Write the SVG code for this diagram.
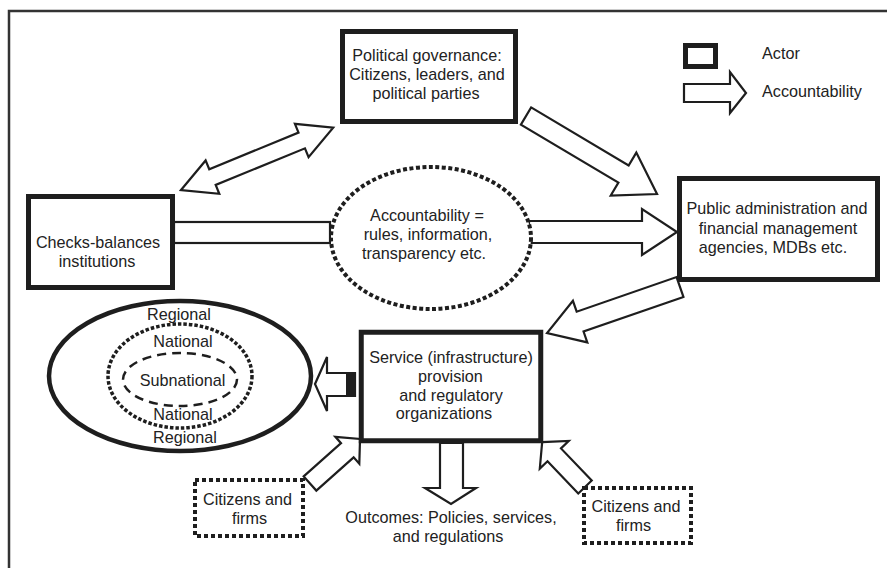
<svg xmlns="http://www.w3.org/2000/svg" width="887" height="568" viewBox="0 0 887 568">
<style>
text{font-family:"Liberation Sans",Arial,sans-serif;font-size:16.2px;fill:#222;text-anchor:middle}
.actor{fill:#fff;stroke:#1e1e1e;stroke-width:5}
.arr{fill:#fff;stroke:#1e1e1e;stroke-width:2.2;stroke-linejoin:miter}
.dotbox{fill:#fff;stroke:#1e1e1e;stroke-width:4;stroke-dasharray:4 3}
.lg{text-anchor:start}
</style>
<rect width="887" height="568" fill="#fff"/>
<path d="M9,568 V11 H887" fill="none" stroke="#333" stroke-width="2.5"/>

<g id="connectors">
  <rect class="arr" x="174" y="222" width="156" height="21"/>
  <polygon class="arr" points="529,221 642,221 642,209 677,232 642,255 642,243 529,243"/>
  <polygon class="arr" transform="translate(181,190) rotate(-22.3)" points="0,0 34,-18 34,-8.5 130.5,-8.5 130.5,-18 164.5,0 130.5,18 130.5,8.5 34,8.5 34,18"/>
  <polygon class="arr" transform="translate(526,116) rotate(30.77)" points="0,-10 113.5,-10 113.5,-25 152.5,0 113.5,25 113.5,10 0,10"/>
  <polygon class="arr" transform="translate(680,287) rotate(160.9)" points="0,-10.5 105.7,-10.5 105.7,-22 140.7,0 105.7,22 105.7,10.5 0,10.5"/>
  <polygon class="arr" points="315,384 327,357 327,373 355,373 355,396 327,396 327,411"/>
  <rect x="346" y="373" width="9" height="23" fill="#1e1e1e"/>
  <polygon class="arr" points="440,443 463,443 463,488 476,488 451,504 425,488 440,488"/>
  <polygon class="arr" transform="translate(310,483.5) rotate(-41.7)" points="0,-9.5 50,-9.5 50,-18 67,0 50,18 50,9.5 0,9.5"/>
  <polygon class="arr" transform="translate(585,487) rotate(-133.7)" points="0,-9.3 44.5,-9.3 44.5,-20 62,0 44.5,20 44.5,9.3 0,9.3"/>
</g>

<g id="political">
  <rect class="actor" x="342.5" y="31.5" width="173" height="90"/>
  <text x="427" y="61">Political governance:</text>
  <text x="427" y="80">Citizens, leaders, and</text>
  <text x="426" y="99">political parties</text>
</g>

<g id="checks">
  <rect class="actor" x="28.5" y="196.5" width="144" height="91"/>
  <text x="98" y="248">Checks-balances</text>
  <text x="97" y="267">institutions</text>
</g>

<g id="accountability">
  <ellipse cx="431" cy="238" rx="100" ry="71" fill="#fff" stroke="#1e1e1e" stroke-width="4" stroke-dasharray="4 2.5"/>
  <text x="427" y="221">Accountability =</text>
  <text x="428" y="240">rules, information,</text>
  <text x="424" y="259">transparency etc.</text>
</g>

<g id="public-admin">
  <rect class="actor" x="679.5" y="178.5" width="198" height="101"/>
  <text x="777" y="214">Public administration and</text>
  <text x="778" y="234">financial management</text>
  <text x="773" y="253">agencies, MDBs etc.</text>
</g>

<g id="service">
  <rect class="actor" x="361.25" y="332.25" width="179.5" height="108.5" stroke-width="4.5"/>
  <text x="451" y="363">Service (infrastructure)</text>
  <text x="450.5" y="382">provision</text>
  <text x="451" y="401">and regulatory</text>
  <text x="444" y="419">organizations</text>
</g>

<g id="levels">
  <ellipse cx="180" cy="376" rx="131" ry="75" fill="#fff" stroke="#1e1e1e" stroke-width="4.5"/>
  <ellipse cx="180" cy="376" rx="72" ry="52" fill="none" stroke="#1e1e1e" stroke-width="3.5" stroke-dasharray="3.5 2"/>
  <ellipse cx="180" cy="379.5" rx="57" ry="26.5" fill="none" stroke="#1e1e1e" stroke-width="2.5" stroke-dasharray="9 6"/>
  <text x="179" y="320">Regional</text>
  <text x="183" y="347">National</text>
  <text x="182.5" y="386">Subnational</text>
  <text x="183" y="420">National</text>
  <text x="185" y="443">Regional</text>
</g>

<g id="citizens-left">
  <rect class="dotbox" x="195" y="480" width="108" height="56"/>
  <text x="247.5" y="505">Citizens and</text>
  <text x="249.5" y="524">firms</text>
</g>

<g id="citizens-right">
  <rect class="dotbox" x="584" y="488" width="107" height="55"/>
  <text x="636" y="512">Citizens and</text>
  <text x="633.5" y="531">firms</text>
</g>

<g id="outcomes">
  <text x="451" y="523">Outcomes: Policies, services,</text>
  <text x="448" y="542">and regulations</text>
</g>

<g id="legend">
  <rect class="actor" x="685.5" y="45.5" width="30" height="21"/>
  <text class="lg" x="762" y="59">Actor</text>
  <polygon class="arr" points="684,84 730,84 730,72 746,93 730,113 730,102 684,102"/>
  <text class="lg" x="762" y="97">Accountability</text>
</g>
</svg>
